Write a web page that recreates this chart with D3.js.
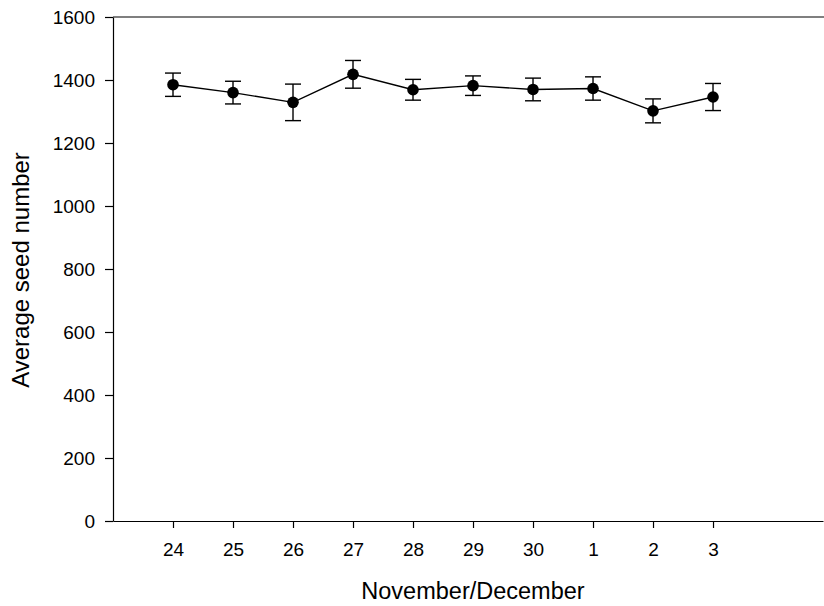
<!DOCTYPE html>
<html>
<head>
<meta charset="utf-8">
<script src="https://cdn.jsdelivr.net/npm/d3@7"></script>
<style>
  html, body { margin: 0; padding: 0; background: #fff; }
  svg { display: block; font-family: "Liberation Sans", Arial, sans-serif; }
</style>
</head>
<body>
<svg id="chart" width="824" height="606"></svg>
<script>
const dates = ["24", "25", "26", "27", "28", "29", "30", "1", "2", "3"];
const meanSeeds = [1385, 1360, 1329, 1418, 1369, 1382, 1370, 1373, 1302, 1346];
const seError = [37, 36, 58, 44, 33, 31, 36, 37, 38, 43];
const yTicks = [0, 200, 400, 600, 800, 1000, 1200, 1400, 1600];
const xTitle = "November/December";
const yTitle = "Average seed number";

(function () {
const svg = d3.select("#chart");
const pLeft = 113, pRight = 823, pTop = 17, pBottom = 521;

const x = d3.scaleLinear().domain([-1, 10.833]).range([pLeft, pRight]);
const y = d3.scaleLinear().domain([0, 1600]).range([pBottom, pTop]);

const idx = dates.map((d, i) => i);

// top frame line
svg.append("line")
  .attr("x1", pLeft).attr("x2", 824)
  .attr("y1", y(1600)).attr("y2", y(1600))
  .attr("stroke", "#000").attr("stroke-width", 1.2);

// x axis
const xAxis = d3.axisBottom(x)
  .tickValues(idx)
  .tickFormat(i => dates[i])
  .tickSize(7)
  .tickPadding(15)
  .tickSizeOuter(0);
const gx = svg.append("g").attr("transform", `translate(0,${pBottom})`).call(xAxis);
gx.select(".domain").attr("stroke", "#000").attr("stroke-width", 1.2);
gx.selectAll(".tick line").attr("stroke", "#000").attr("stroke-width", 1.2);
gx.selectAll(".tick text").attr("font-size", "19px").attr("fill", "#000")
  .attr("font-family", "Liberation Sans, Arial, sans-serif");

// y axis
const yAxis = d3.axisLeft(y)
  .tickValues(yTicks)
  .tickFormat(d3.format("d"))
  .tickSize(8)
  .tickPadding(10)
  .tickSizeOuter(0);
const gy = svg.append("g").attr("transform", `translate(${pLeft},0)`).call(yAxis);
gy.select(".domain").attr("stroke", "#000").attr("stroke-width", 1.2);
gy.selectAll(".tick line").attr("stroke", "#000").attr("stroke-width", 1.2);
gy.selectAll(".tick text").attr("font-size", "19px").attr("fill", "#000")
  .attr("font-family", "Liberation Sans, Arial, sans-serif");

// line
const line = d3.line().x(i => x(i)).y(i => y(meanSeeds[i]));
svg.append("path")
  .datum(idx)
  .attr("d", line)
  .attr("fill", "none")
  .attr("stroke", "#000")
  .attr("stroke-width", 1.4);

// error bars
const eb = svg.append("g").attr("stroke", "#000").attr("stroke-width", 1.4);
idx.forEach(i => {
  const hi = y(meanSeeds[i] + seError[i]);
  const lo = y(meanSeeds[i] - seError[i]);
  const cx = x(i);
  eb.append("line").attr("x1", cx).attr("x2", cx).attr("y1", hi).attr("y2", lo);
  eb.append("line").attr("x1", cx - 8).attr("x2", cx + 8).attr("y1", hi).attr("y2", hi);
  eb.append("line").attr("x1", cx - 8).attr("x2", cx + 8).attr("y1", lo).attr("y2", lo);
});

// points
svg.append("g").selectAll("circle")
  .data(idx)
  .join("circle")
  .attr("cx", i => x(i))
  .attr("cy", i => y(meanSeeds[i]))
  .attr("r", 5.8)
  .attr("fill", "#000");

// titles
svg.append("text")
  .attr("x", 473)
  .attr("y", 599)
  .attr("text-anchor", "middle")
  .attr("font-size", "23.5px")
  .attr("fill", "#000")
  .text(xTitle);

svg.append("text")
  .attr("transform", `translate(29,${(pTop + pBottom) / 2 + 1}) rotate(-90)`)
  .attr("text-anchor", "middle")
  .attr("font-size", "24px")
  .attr("fill", "#000")
  .text(yTitle);
})();
</script>
</body>
</html>
